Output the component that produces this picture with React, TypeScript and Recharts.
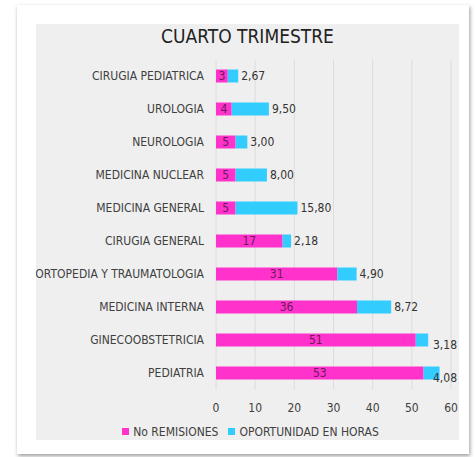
import React from 'react';
import { BarChart, Bar, XAxis, YAxis, CartesianGrid, Legend, LabelList } from 'recharts';

const categories = [
  'CIRUGIA PEDIATRICA',
  'UROLOGIA',
  'NEUROLOGIA',
  'MEDICINA NUCLEAR',
  'MEDICINA GENERAL',
  'CIRUGIA GENERAL',
  'ORTOPEDIA Y TRAUMATOLOGIA',
  'MEDICINA INTERNA',
  'GINECOOBSTETRICIA',
  'PEDIATRIA',
];
const remisiones = [3, 4, 5, 5, 5, 17, 31, 36, 51, 53];
const oportunidad = [2.67, 9.5, 3.0, 8.0, 15.8, 2.18, 4.9, 8.72, 3.18, 4.08];
const xTicks = [0, 10, 20, 30, 40, 50, 60];

const data = categories.map((name, i) => ({
  name,
  remisiones: remisiones[i],
  oportunidad: oportunidad[i],
}));

const FONT = '"DejaVu Sans Condensed", "Liberation Sans Narrow", sans-serif';
const PINK = '#ff33cc';
const BLUE = '#33ccff';
const CHART_W = 423;

const fmt = (v: any) => Number(v).toFixed(2).replace('.', ',');

// y category tick on one line, clipped by the frame like the original
const CategoryTick = (props: any) => {
  const { x, y, payload } = props;
  return (
    <text x={x} y={y} textAnchor="end" dominantBaseline="central" fontSize={12} fill="#404040">
      {payload.value}
    </text>
  );
};

// value label after the end of the blue segment, pulled back in when it would run off the frame
const HoursLabel = (props: any) => {
  const { x, y, width, height, value } = props;
  const text = fmt(value);
  const end = x + width;
  const approxW = text.length * 7;
  const tooFar = end + 3 + approxW > CHART_W - 2;
  return (
    <text
      x={tooFar ? CHART_W - 2 : end + 3}
      y={y + height / 2 + (tooFar ? 5 : 0)}
      textAnchor={tooFar ? 'end' : 'start'}
      dominantBaseline="central"
      fontSize={12}
      fill="#333"
    >
      {text}
    </text>
  );
};

export default function App() {
  return (
    <div style={{ position: 'fixed', left: 0, top: 0, width: 475, height: 457, background: '#fff' }}>
      <div
        style={{
          position: 'absolute',
          left: 17,
          top: 5,
          width: 452,
          height: 449,
          background: '#fff',
          boxShadow: '1px 2px 4px rgba(0,0,0,0.4)',
        }}
      >
        <div
          style={{
            position: 'absolute',
            left: 19,
            top: 19,
            width: CHART_W,
            height: 416,
            background: '#efefef',
            overflow: 'hidden',
          }}
        >
          <div
            style={{
              position: 'absolute',
              left: 0,
              top: 0,
              width: CHART_W,
              textAlign: 'center',
              fontFamily: FONT,
              fontSize: 19,
              color: '#222',
              lineHeight: '25px',
            }}
          >
            CUARTO TRIMESTRE
          </div>
          <BarChart
            width={CHART_W}
            height={416}
            data={data}
            layout="vertical"
            margin={{ top: 35.5, right: 8, left: 0, bottom: 2 }}
            style={{ fontFamily: FONT }}
          >
            <CartesianGrid horizontal={false} stroke="#dcdcdc" />
            <XAxis
              type="number"
              domain={[0, 60]}
              ticks={xTicks}
              axisLine={false}
              tickLine={false}
              tickMargin={8}
              height={34.5}
              tick={{ fontSize: 12, fill: '#404040' }}
            />
            <YAxis
              type="category"
              dataKey="name"
              width={180}
              axisLine={false}
              tickLine={false}
              tickMargin={6}
              interval={0}
              tick={<CategoryTick />}
            />
            <Legend
              verticalAlign="bottom"
              height={14}
              iconType="square"
              iconSize={7}
              wrapperStyle={{ lineHeight: '14px', left: 12 }}
              formatter={(value: any) => (
                <span style={{ color: '#404040', fontSize: 12 }}>{value}</span>
              )}
            />
            <Bar
              dataKey="remisiones"
              name="No REMISIONES"
              stackId="a"
              fill={PINK}
              barSize={13}
              isAnimationActive={false}
            >
              <LabelList dataKey="remisiones" position="center" fill="#6b1a5a" fontSize={12} />
            </Bar>
            <Bar
              dataKey="oportunidad"
              name="OPORTUNIDAD EN HORAS"
              stackId="a"
              fill={BLUE}
              barSize={13}
              isAnimationActive={false}
            >
              <LabelList dataKey="oportunidad" content={<HoursLabel />} />
            </Bar>
          </BarChart>
        </div>
      </div>
    </div>
  );
}
